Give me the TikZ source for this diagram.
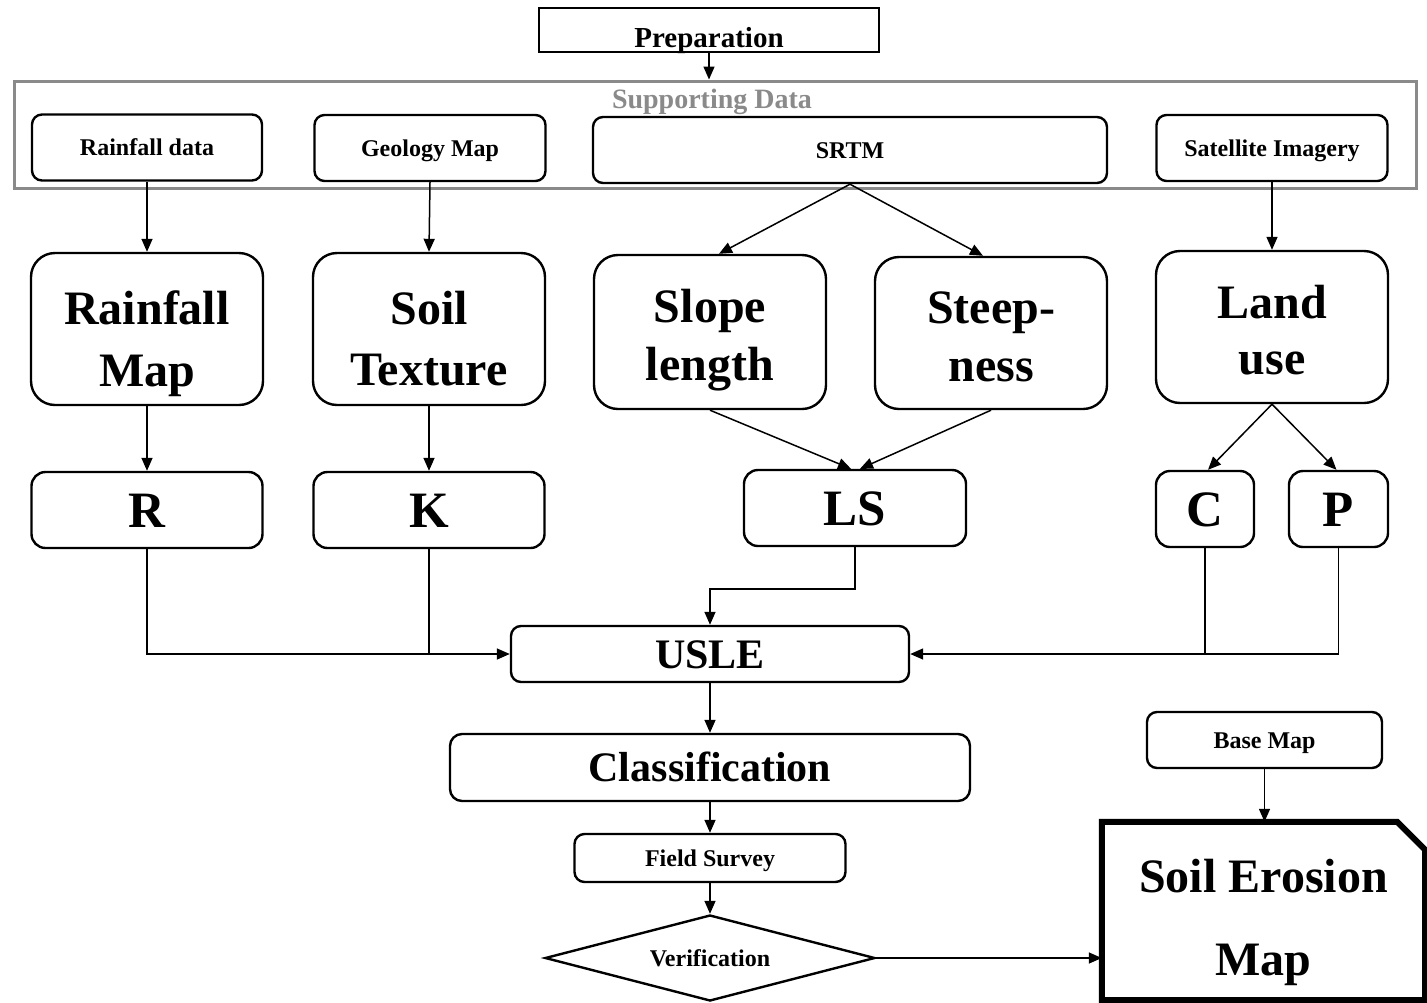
\documentclass[tikz,border=0pt]{standalone}
\usepackage{fontspec}
\setmainfont{Liberation Serif}
\usetikzlibrary{arrows.meta,shapes.geometric}
\newcommand\fsmall{\fontsize{24}{28}\selectfont\bfseries}
\newcommand\fhead{\fontsize{29}{34}\selectfont\bfseries}
\newcommand\fsupp{\fontsize{28}{34}\selectfont\bfseries}
\newcommand\fmid{\fontsize{42}{48}\selectfont\bfseries}
\newcommand\fbig{\fontsize{48}{60}\selectfont\bfseries}
\newcommand\fhuge{\fontsize{51}{60}\selectfont\bfseries}
\definecolor{suppgray}{HTML}{8A8A8A}
\begin{document}
\begin{tikzpicture}[x=1pt,y=-1pt,
  every node/.style={inner sep=0pt, align=center},
  box/.style={draw, line width=2.4pt, rounded corners=10pt},
  smallbox/.style={box, minimum height=66pt, font=\fsmall, text height=16pt, text depth=0pt},
  bigbox/.style={box, rounded corners=24pt, minimum width=232pt, minimum height=152pt},
  bigtext/.style={font=\fbig, anchor=base},
  letterbox/.style={box, rounded corners=14pt, minimum height=76pt, font=\fhuge, text height=34pt, text depth=0pt},
  midbox/.style={box, font=\fmid, text height=28pt, text depth=0pt},
  conn/.style={line width=1.5pt, -{Triangle[length=13pt,width=11pt]}},
  wire/.style={line width=1.5pt}]
\useasboundingbox (0,0) rectangle (1427,1002);

% top
\node[draw, line width=2pt, minimum width=340pt, minimum height=44pt, font=\fhead, text height=34pt, text depth=0pt] (prep) at (709,30) {Preparation};
\node[draw=suppgray, line width=3pt, minimum width=1402pt, minimum height=107pt] (supp) at (715,134.5) {};
\node[font=\fsupp, text=suppgray, anchor=base] (supplabel) at (712,108) {Supporting Data};

% data row
\node[smallbox, minimum width=230pt] (rdata) at (147,147.5) {Rainfall data};
\node[smallbox, minimum width=231pt] (geo) at (430,148) {Geology Map};
\node[smallbox, minimum width=514pt] (srtm) at (850,150) {SRTM};
\node[smallbox, minimum width=231pt] (sat) at (1272,148) {Satellite Imagery};

% big row
\node[bigbox] (rmap) at (147,329) {};
\node[bigtext] (rmap1) at ([yshift=5pt]rmap.center) {Rainfall};
\node[bigtext] (rmap2) at ([yshift=-57pt]rmap.center) {Map};
\node[bigbox] (soil) at (429,329) {};
\node[bigtext] (soil1) at ([yshift=5pt]soil.center) {Soil};
\node[bigtext] (soil2) at ([yshift=-56pt]soil.center) {Texture};
\node[bigbox, minimum height=154pt] (slope) at (710,332) {};
\node[bigtext] (slope1) at ([yshift=10pt]slope.center) {Slope};
\node[bigtext] (slope2) at ([yshift=-48pt]slope.center) {length};
\node[bigbox] (steep) at (991,333) {};
\node[bigtext] (steep1) at ([yshift=10pt]steep.center) {Steep-};
\node[bigtext] (steep2) at ([yshift=-48pt]steep.center) {ness};
\node[bigbox] (land) at (1272,327) {};
\node[bigtext] (land1) at ([yshift=9pt]land.center) {Land};
\node[bigtext] (land2) at ([yshift=-47pt]land.center) {use};

% factors
\node[letterbox, minimum width=231pt] (R) at (147,510) {R};
\node[letterbox, minimum width=231pt] (K) at (429,510) {K};
\node[letterbox, minimum width=222pt] (LS) at (855,508) {LS};
\node[letterbox, minimum width=98pt] (C) at (1205,509) {C};
\node[letterbox, minimum width=99pt] (P) at (1338.5,509) {P};

% lower chain
\node[midbox, minimum width=398pt, minimum height=56pt] (usle) at (710,654) {USLE};
\node[midbox, rounded corners=12pt, minimum width=520pt, minimum height=67pt] (class) at (710,767.5) {Classification};
\node[smallbox, minimum width=271pt, minimum height=48pt] (field) at (710,858) {Field Survey};
\node[diamond, draw, line width=2.4pt, aspect=3.84, minimum width=330pt, minimum height=86pt, font=\fsmall, text height=16pt, text depth=0pt] (verif) at (710,958) {Verification};

% result
\node[smallbox, minimum width=235pt, minimum height=56pt] (base) at (1264.5,740) {Base Map};
\node[minimum width=323pt, minimum height=178pt] (erosion) at (1263.5,911) {};
\node[bigtext] (erosion1) at ([yshift=19pt]erosion.center) {Soil Erosion};
\node[bigtext] (erosion2) at ([yshift=-64pt]erosion.center) {Map};
\draw[line width=6pt, line join=miter] (erosion.north west) -- ([xshift=-28pt]erosion.north east) -- ([yshift=-28pt]erosion.north east) -- (erosion.south east) -- (erosion.south west) -- cycle;

% connectors
\draw[conn] (prep.south) -- (prep.south |- supp.north);
\draw[conn] (rdata.south) -- (rmap.north);
\draw[conn] (geo.south) -- (soil.north);
\draw[conn] (srtm.south) -- ([xshift=9pt]slope.north);
\draw[conn] (srtm.south) -- ([xshift=-8pt]steep.north);
\draw[conn] (sat.south) -- (land.north);
\draw[conn] (rmap.south) -- (R.north);
\draw[conn] (soil.south) -- (K.north);
\draw[conn] (slope.south) -- ([xshift=-4pt]LS.north);
\draw[conn] (steep.south) -- ([xshift=5pt]LS.north);
\draw[conn] (land.south) -- ([xshift=3pt]C.north);
\draw[conn] (land.south) -- ([xshift=-2pt]P.north);
\draw[conn] (R.south) |- (usle.west);
\draw[wire] (K.south) -- (K.south |- usle.west);
\draw[conn] (LS.south) -- ([yshift=-42pt]LS.south) -| (usle.north);
\draw[conn] (C.south) |- (usle.east);
\draw[wire] (P.south) -- (P.south |- usle.east) -- (C.south |- usle.east);
\draw[conn] (usle.south) -- (class.north);
\draw[conn] (class.south) -- (field.north);
\draw[conn] (field.south) -- (verif.north);
\draw[conn] (verif.east) -- (verif.east -| erosion.west);
\draw[conn] (base.south) -- (base.south |- erosion.north);
\end{tikzpicture}
\end{document}
